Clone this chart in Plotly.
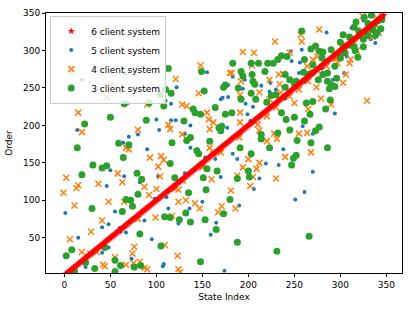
import plotly.graph_objects as go

# 6 client system: order equals state index
six_state = list(range(0, 348))
six_order = list(range(0, 348))

# 5 client system (state index, order)
five_pts = [(19,261),(66,269),(155,271),(122,251),(172,237),(178,238),(246,299),(258,301),(183,265),(196,261),
            (214,253),(224,257),(247,286),(256,284),(275,301),(189,249),(194,249),(223,245),(178,254),(285,324),
            (332,346),(333,315),(338,310),(344,341),(300,292),(304,270),(292,261),(307,292),(69,230),(14,194),
            (80,188),(70,185),(64,177),(50,140),(46,119),(65,132),(82,124),(110,233),(116,229),(100,208),
            (116,207),(121,207),(137,200),(177,197),(131,189),(103,194),(90,168),(137,170),(153,157),(164,155),
            (170,131),(131,136),(102,132),(197,229),(226,225),(199,215),(259,199),(270,189),(238,168),(233,147),
            (219,149),(212,129),(270,138),(188,155),(183,162),(294,216),(1,83),(48,68),(41,64),(15,50),
            (41,30),(48,37),(23,11),(73,22),(61,58),(67,57),(55,85),(87,73),(95,48),(113,89),
            (111,104),(108,15),(124,69),(136,89),(150,98),(159,54),(165,70),(174,6),(206,115),(190,93),
            (251,101),(261,111),(107,12),(170,235),(240,236),(262,258),(280,276),(310,305),(320,318),(330,326),
            (202,206),(150,146),(98,102),(60,63),(312,330),(325,340),(290,300),(255,270),(230,248),(205,225)]

# 4 client system
four_pts = [(50,254),(46,238),(148,280),(121,262),(146,243),(180,270),(257,321),(258,312),(229,312),(194,298),
            (206,297),(245,297),(182,270),(192,259),(204,280),(223,261),(233,268),(238,269),(264,279),(270,288),
            (275,292),(274,251),(191,241),(212,244),(234,255),(235,244),(277,328),(324,346),(342,323),(340,343),
            (331,327),(297,283),(310,283),(311,288),(303,257),(306,268),(15,217),(19,191),(80,194),(67,170),
            (70,168),(2,130),(37,122),(15,120),(58,136),(63,124),(90,228),(128,228),(133,226),(155,217),
            (157,208),(115,195),(113,201),(158,195),(162,204),(128,188),(93,157),(105,159),(108,154),(102,145),
            (158,170),(162,162),(160,128),(104,132),(129,126),(250,230),(191,217),(191,204),(223,235),(212,193),
            (265,222),(228,189),(231,182),(255,189),(264,190),(220,179),(240,158),(268,164),(212,150),(200,155),
            (209,142),(205,131),(230,129),(188,133),(194,144),(279,236),(290,228),(329,233),(-1,110),(13,116),
            (11,93),(48,98),(41,73),(29,58),(6,48),(19,31),(28,29),(42,14),(44,12),(55,24),
            (67,14),(75,16),(82,18),(87,10),(76,38),(74,29),(65,98),(87,118),(92,107),(100,115),
            (99,77),(109,40),(117,79),(124,98),(132,100),(124,114),(123,26),(124,8),(142,96),(147,89),
            (167,84),(171,92),(181,113),(202,119),(186,89),(90,8),(126,4),(210,201),(220,212),(230,224),
            (245,239),(255,248),(265,259),(285,279),(295,289),(305,300),(315,310),(325,320),(338,334),(345,347),
            (150,144),(170,164),(190,184),(120,115),(80,75),(35,31),(280,268),(300,296),(318,300),(335,318)]

# 3 client system
three_pts = [(113,276),(149,272),(110,248),(104,241),(116,243),(152,246),(175,254),(173,251),(258,326),(236,293),
             (268,302),(273,306),(183,283),(192,272),(194,266),(203,283),(204,268),(211,283),(205,259),(207,255),
             (218,272),(221,283),(227,283),(232,288),(240,268),(242,292),(245,261),(252,259),(261,288),(265,268),
             (269,270),(276,261),(189,250),(203,243),(225,240),(303,321),(303,306),(310,308),(317,338),(315,331),
             (337,335),(338,320),(344,329),(277,299),(281,298),(294,279),(281,268),(286,270),(286,259),(290,254),
             (288,249),(296,263),(294,252),(319,291),(316,300),(325,305),(340,324),(65,229),(22,202),(50,211),
             (14,170),(59,176),(70,174),(64,157),(31,147),(41,143),(46,146),(19,134),(79,136),(92,230),
             (108,226),(140,222),(142,217),(148,215),(164,224),(175,215),(89,207),(130,206),(168,197),(170,193),
             (171,199),(137,184),(133,180),(117,177),(115,149),(144,166),(146,162),(158,179),(155,142),(166,139),
             (151,130),(120,130),(84,128),(192,235),(208,235),(263,230),(270,232),(182,217),(236,217),(241,208),
             (250,211),(261,206),(267,215),(232,190),(245,194),(268,177),(253,180),(214,188),(214,182),(223,170),
             (249,156),(252,160),(247,147),(203,162),(200,139),(201,131),(188,129),(191,170),(289,234),(284,222),
             (277,198),(273,193),(286,170),(30,89),(8,34),(2,26),(44,37),(23,17),(33,9),(55,20),
             (61,13),(76,11),(83,13),(82,55),(63,85),(67,101),(72,100),(74,92),(80,108),(105,39),
             (109,78),(115,77),(135,110),(154,114),(132,83),(125,74),(137,71),(148,18),(153,74),(165,61),
             (173,82),(180,101),(188,44),(231,32),(266,52),(11,5),(55,5),(300,311),(305,297),(320,326),
             (325,315),(330,336),(335,328),(340,339),(345,341),(310,318),(290,301),(280,290),(270,281),(260,271),
             (250,256),(240,251),(230,241),(220,231),(315,305),(330,320),(300,290),(326,344),(334,347)]

five_state = [p[0] for p in five_pts]
five_order = [p[1] for p in five_pts]
four_state = [p[0] for p in four_pts]
four_order = [p[1] for p in four_pts]
three_state = [p[0] for p in three_pts]
three_order = [p[1] for p in three_pts]

fig = go.Figure()
fig.add_trace(go.Scatter(x=five_state, y=five_order, mode="markers", name="5 client system",
                         marker=dict(symbol="circle", size=4, color="#1f77b4", line=dict(width=0)),
                         legendrank=2))
fig.add_trace(go.Scatter(x=four_state, y=four_order, mode="markers", name="4 client system",
                         marker=dict(symbol="x-thin", size=6, color="#ff7f0e",
                                     line=dict(width=1.5, color="#ff7f0e")),
                         legendrank=3))
fig.add_trace(go.Scatter(x=three_state, y=three_order, mode="markers", name="3 client system",
                         marker=dict(symbol="circle", size=7, color="#2ca02c", line=dict(width=0)),
                         legendrank=4))
fig.add_trace(go.Scatter(x=six_state, y=six_order, mode="markers", name="6 client system",
                         marker=dict(symbol="star", size=5.5, color="#ff0000", line=dict(width=0)),
                         legendrank=1))

axis_common = dict(showline=True, linecolor="black", linewidth=1, mirror=True,
                   ticks="outside", ticklen=3, tickwidth=1, tickcolor="black",
                   showgrid=False, zeroline=False, automargin=False,
                   tickfont=dict(family="DejaVu Sans", size=9, color="black"))

fig.update_xaxes(range=[-20, 367], tickvals=[0, 50, 100, 150, 200, 250, 300, 350],
                 title=dict(text="State Index", font=dict(family="DejaVu Sans", size=9, color="black"), standoff=4),
                 **axis_common)
fig.update_yaxes(range=[3, 350], tickvals=[50, 100, 150, 200, 250, 300, 350],
                 title=dict(text="Order", font=dict(family="DejaVu Sans", size=9, color="black"), standoff=8),
                 **axis_common)

fig.update_layout(
    width=415, height=311,
    margin=dict(l=46, r=13, t=13, b=38),
    plot_bgcolor="white", paper_bgcolor="white",
    font=dict(family="DejaVu Sans", size=9, color="black"),
    legend=dict(x=0.012, y=0.99, xanchor="left", yanchor="top",
                bgcolor="rgba(255,255,255,0.8)", bordercolor="#cccccc", borderwidth=1,
                font=dict(family="DejaVu Sans", size=9, color="black"),
                itemsizing="trace", itemwidth=30, tracegroupgap=0),
    showlegend=True,
)

fig.write_html("out.html", config={"displayModeBar": False},
               post_script="document.body.style.margin='0';document.body.style.padding='0';")
